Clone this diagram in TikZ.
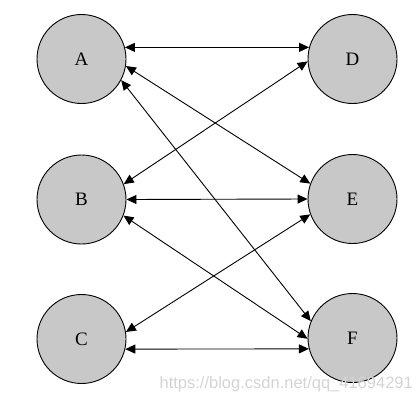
\documentclass[tikz,border=0pt]{standalone}
\usepackage{fontspec}
\setmainfont{Liberation Serif}
\newfontfamily\wmfont{Liberation Sans}
\usetikzlibrary{arrows.meta}
\definecolor{nodegray}{HTML}{C8C8C8}
\definecolor{wmgray}{HTML}{D4D4D4}
\begin{document}
\begin{tikzpicture}[x=1pt,y=-1pt,
  vertex/.style={circle,draw=black,line width=0.9pt,fill=nodegray,minimum size=89pt,inner sep=0pt,font=\fontsize{19}{19}\selectfont},
  link/.style={line width=0.9pt,{Triangle[length=10pt,width=9pt]}-{Triangle[length=10pt,width=9pt]}}]
\useasboundingbox (0,0) rectangle (420,402);
\node[vertex] (A) at (81.5,59) {A};
\node[vertex] (D) at (352.5,59) {D};
\node[vertex] (B) at (81.5,199.5) {B};
\node[vertex] (E) at (352.5,199) {E};
\node[vertex] (C) at (81.5,339) {C};
\node[vertex] (F) at (352.5,338) {F};
\draw[link] (A.15) -- (D.165);
\draw[link] (A.-9) -- (E.160);
\draw[link] (A.-28) -- (F.158);
\draw[link] (B.20) -- (D.183);
\draw[link] (B.0) -- (E.180);
\draw[link] (B.-21) -- (F.181);
\draw[link] (C.9) -- (E.200);
\draw[link] (C.-13) -- (F.194);
\node[anchor=east,text=wmgray,font=\wmfont\fontsize{16.5}{16.5}\selectfont,inner sep=0pt] (wm) at (413,384) {https://blog.csdn.net/qq\_41694291};
\end{tikzpicture}
\end{document}
